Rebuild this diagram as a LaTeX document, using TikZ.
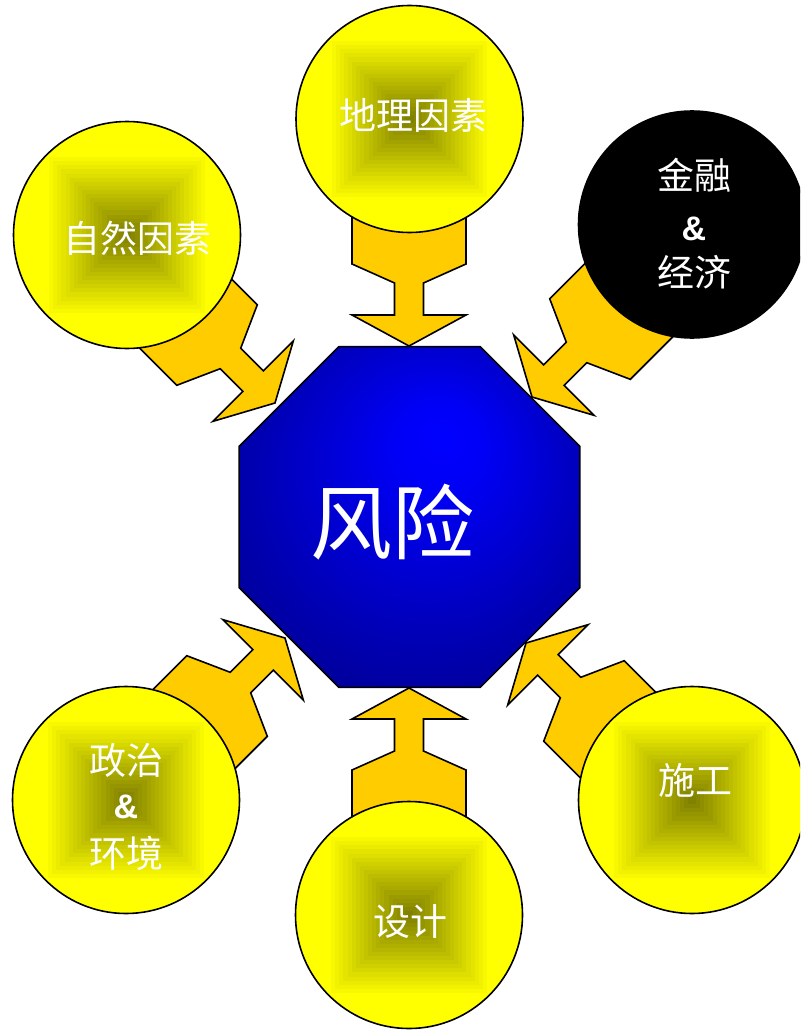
\documentclass[tikz,border=0pt]{standalone}
\usepackage{fontspec}
\setmainfont{Liberation Sans}
\newfontfamily\ampfont{Liberation Sans}[BoldFont={* Bold}]
\newfontfamily\cjk{Noto Sans CJK SC}
\usetikzlibrary{shapes.geometric}
\definecolor{arrowgold}{RGB}{255,204,0}
\definecolor{bubolive}{RGB}{122,122,0}
\definecolor{bubyellow}{RGB}{255,255,0}
\pgfdeclareradialshading{octshade}{\pgfpoint{5bp}{12bp}}{rgb(0bp)=(0,0,1); rgb(6bp)=(0,0,0.97); rgb(25bp)=(0,0,0.7); rgb(40bp)=(0,0,0.5); rgb(50bp)=(0,0,0.5)}
\newcommand\blockarr[2]{\draw[blockarrow, shift={(#1)}, rotate=#2] (-190,57) -- (-82,57) -- (-63,14.5) -- (-31,14.5) -- (-31,57) -- (0,0) -- (-31,-57) -- (-31,-14.5) -- (-63,-14.5) -- (-82,-57) -- (-190,-57) -- cycle;}
\begin{document}
\begin{tikzpicture}[x=1pt,y=-1pt,
  blockarrow/.style={fill=arrowgold, draw=black, line width=1.6pt, line join=miter},
  bubble/.style={circle, draw=black, line width=1.6pt, minimum size=227pt, inner sep=0pt},
  ybubble/.style={bubble, fill=bubyellow, path picture={
      \foreach \i in {20,19,...,1}{%
        \pgfmathtruncatemacro\pc{5*\i}%
        \pgfmathsetmacro\hs{4.1*\i}%
        \fill[bubyellow!\pc!bubolive] ([shift={(-\hs,-\hs)}]path picture bounding box.center) rectangle ([shift={(\hs,\hs)}]path picture bounding box.center);
      }}},
  kbubble/.style={bubble, fill=black},
  lbl/.style={text=white, font=\cjk\fontsize{37}{40}\selectfont, inner sep=0pt},
  amp/.style={text=white, font=\ampfont\bfseries\fontsize{34}{36}\selectfont, inner sep=0pt},
  biglbl/.style={text=white, font=\cjk\fontsize{82}{90}\selectfont, inner sep=0pt},
]
\useasboundingbox (0,0) rectangle (800,1030);
\clip (0,0) rectangle (800,1030);

% central octagon
\node[regular polygon, regular polygon sides=8, minimum size=369pt, inner sep=0pt,
      draw=black, line width=1.5pt, shading=octshade] (risk) at (409.5,517) {};

% arrow tips
\coordinate (tipGeo) at (409,346);
\coordinate (tipNat) at (275,403);
\coordinate (tipFin) at (532,397);
\coordinate (tipPol) at (285,638);
\coordinate (tipDes) at (409,688);
\coordinate (tipCon) at (526,643);

\blockarr{tipGeo}{-90}
\blockarr{tipNat}{-45}
\blockarr{tipFin}{-135}
\blockarr{tipPol}{45}
\blockarr{tipDes}{90}
\blockarr{tipCon}{135}

% circles
\node[ybubble] (geo) at (409.5,119) {};
\node[ybubble] (nat) at (127,235) {};
\node[kbubble] (fin) at (692,224.5) {};
\node[ybubble] (pol) at (126,800) {};
\node[ybubble] (des) at (409,915) {};
\node[ybubble] (con) at (692,800) {};

% labels
\node[lbl] (tgeo) at (413,115) {地理因素};
\node[lbl] (tnat) at (137,238) {自然因素};
\node[lbl] (tfin1) at (694,175) {金融};
\node[amp] (tfin2) at (694,229) {\&};
\node[lbl] (tfin3) at (694,272) {经济};
\node[lbl] (tpol1) at (126,760) {政治};
\node[amp] (tpol2) at (126,807) {\&};
\node[lbl] (tpol3) at (126,853) {环境};
\node[lbl] (tdes) at (410,922) {设计};
\node[lbl] (tcon) at (695,780) {施工};
\node[biglbl] (trisk) at (392,522) {风险};
\end{tikzpicture}
\end{document}
